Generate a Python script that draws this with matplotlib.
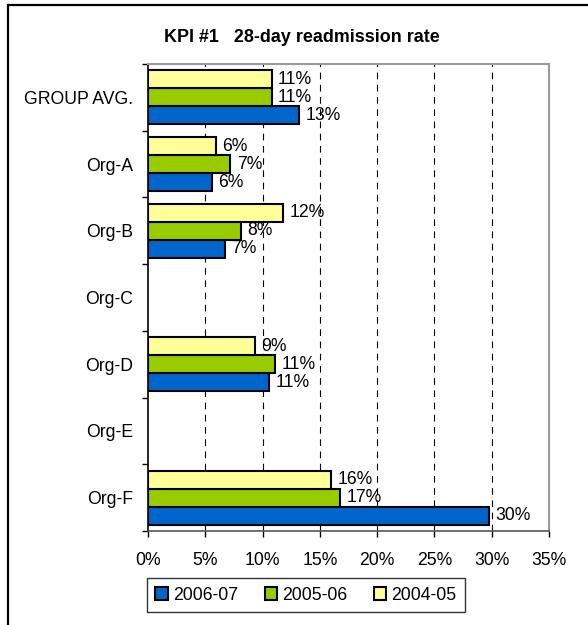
import numpy as np
import matplotlib.pyplot as plt
from matplotlib.patches import Rectangle

plt.rcParams['font.family'] = ['Liberation Sans', 'DejaVu Sans']

# data (percent), nan = no data
orgs = ['GROUP AVG.', 'Org-A', 'Org-B', 'Org-C', 'Org-D', 'Org-E', 'Org-F']
years = ['2006-07', '2005-06', '2004-05']
v0607 = [13.2, 5.6, 6.7, np.nan, 10.6, np.nan, 29.8]
v0506 = [10.8, 7.2, 8.1, np.nan, 11.1, np.nan, 16.8]
v0405 = [10.8, 5.9, 11.8, np.nan, 9.3, np.nan, 16.0]
colors = ['#0066CC', '#99CC00', '#FFFF99']

fs = 12.7

fig = plt.figure(figsize=(5.88, 6.25), dpi=100)
ax = fig.add_axes([148/588, 1-531/625, 401/588, 467/625])

# outer frame
fig.patches.append(Rectangle((8/588, -0.1), 1.2, 1.1 - 5/625, transform=fig.transFigure,
                             fill=False, edgecolor='black', linewidth=1.6, clip_on=False))

y = np.arange(len(orgs))
h = 0.27
series = [v0607, v0506, v0405]
offsets = [h, 0, -h]
for vals, off, col, lab in zip(series, offsets, colors, years):
    vals = np.array(vals)
    ax.barh(y + off, vals, height=h, color=col, edgecolor='black', linewidth=1.5, label=lab, zorder=3)
    for yi, v in zip(y, vals):
        if not np.isnan(v):
            ax.annotate('%d%%' % round(v), (v, yi + off), xytext=(4.5, 0), textcoords='offset points',
                        va='center', ha='left', fontsize=fs, zorder=4)

ax.set_xlim(0, 35)
ax.set_ylim(len(orgs) - 0.5, -0.5)
ax.set_xticks(np.arange(0, 36, 5))
ax.set_xticklabels(['%d%%' % t for t in range(0, 36, 5)], fontsize=fs)
ax.set_yticks(y)
ax.set_yticklabels(orgs, fontsize=fs)
ax.tick_params(axis='y', length=0, pad=11)
ax.set_yticks(np.arange(-0.5, len(orgs), 1), minor=True)
ax.tick_params(axis='y', which='minor', length=4, width=1, direction='out')
ax.tick_params(axis='x', length=4, width=1, direction='out', pad=11)

for xv in range(5, 35, 5):
    ax.axvline(xv, color='black', linestyle=(0, (6, 5)), linewidth=0.8, zorder=1)

for s in ['top', 'right']:
    ax.spines[s].set_color('#999999')
    ax.spines[s].set_linewidth(1.5)
ax.spines['left'].set_color('black')
ax.spines['left'].set_linewidth(1.2)
ax.spines['bottom'].set_color('#555555')
ax.spines['bottom'].set_linewidth(1.2)

fig.text(302/588, 1-37/625, 'KPI #1   28-day readmission rate', ha='center', va='center',
         fontsize=12.9, fontweight='bold')

leg = fig.legend(loc='center', bbox_to_anchor=(306/588, 1-595/625), ncol=3, fontsize=fs,
                 handlelength=0.7, handleheight=0.7, handletextpad=0.3, columnspacing=1.5,
                 frameon=True, fancybox=False, borderpad=0.5)
leg.get_frame().set_edgecolor('black')
leg.get_frame().set_linewidth(1.0)
for p in leg.get_patches():
    p.set_linewidth(1.5)

fig.savefig('out.png', dpi=100)
